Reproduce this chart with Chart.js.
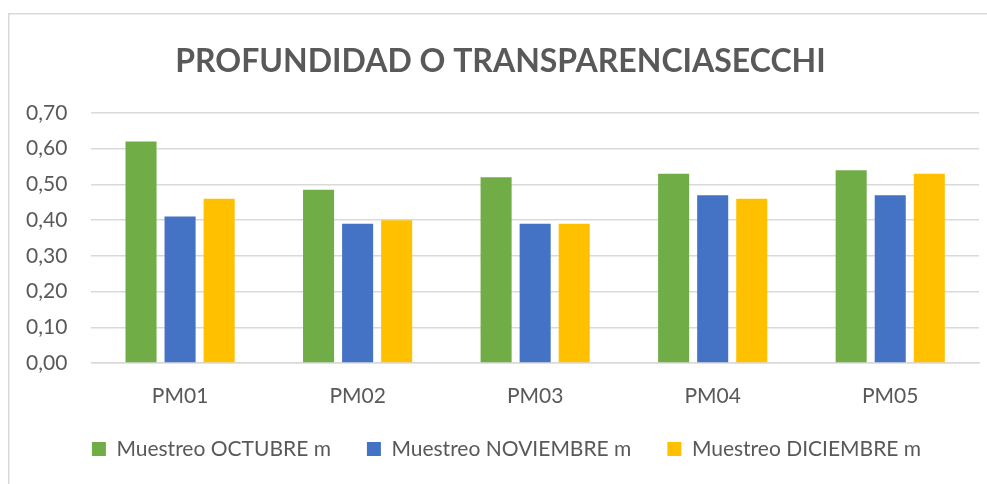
<!DOCTYPE html>
<html>
<head>
<meta charset="utf-8">
<script src="https://cdn.jsdelivr.net/npm/chart.js@4"></script>
<style>
html,body{margin:0;padding:0;background:#fff;}
#wrap{position:relative;width:987px;height:484px;}
</style>
</head>
<body>
<div id="wrap"><canvas id="c" width="987" height="484"></canvas></div>
<script>
const categories = ["PM01", "PM02", "PM03", "PM04", "PM05"];
const octubre = [0.62, 0.485, 0.52, 0.53, 0.54];
const noviembre = [0.41, 0.39, 0.39, 0.47, 0.47];
const diciembre = [0.46, 0.40, 0.39, 0.46, 0.53];
const seriesNames = ["Muestreo OCTUBRE m", "Muestreo NOVIEMBRE m", "Muestreo DICIEMBRE m"];
const titleText = "PROFUNDIDAD O TRANSPARENCIASECCHI";

const FONT = "Lato, 'Open Sans', sans-serif";
const TXT = "#595959";

const framePlugin = {
  id: 'frame',
  beforeDraw(chart) {
    const ctx = chart.ctx;
    ctx.save();
    ctx.fillStyle = '#fff';
    ctx.fillRect(0, 0, chart.width, chart.height);
    ctx.strokeStyle = '#d9d9d9';
    ctx.lineWidth = 1.5;
    ctx.strokeRect(8.75, 13.75, 1100, 600);
    ctx.restore();
  }
};

// nudge title and legend boxes (Excel centres them on the full chart frame)
const shiftPlugin = {
  id: 'shiftBoxes',
  afterLayout(chart) {
    if (chart.titleBlock) { chart.titleBlock.left += 10; chart.titleBlock.right += 10; }
    if (chart.legend) {
      chart.legend.left += 16; chart.legend.right += 16;
      chart.legend.top -= 26.5; chart.legend.bottom -= 26.5;
    }
  }
};

new Chart(document.getElementById('c'), {
  type: 'bar',
  data: {
    labels: categories,
    datasets: [
      { label: seriesNames[0], data: octubre, backgroundColor: '#70ad47' },
      { label: seriesNames[1], data: noviembre, backgroundColor: '#4472c4' },
      { label: seriesNames[2], data: diciembre, backgroundColor: '#ffc000' }
    ]
  },
  options: {
    responsive: false,
    animation: false,
    devicePixelRatio: 1,
    categoryPercentage: 0.66,
    barPercentage: 0.795,
    layout: { padding: { left: 2, right: 8, top: 0, bottom: -12 } },
    plugins: {
      title: {
        display: true,
        text: titleText,
        color: TXT,
        font: { family: FONT, size: 32, weight: 'bold' },
        padding: { top: 42, bottom: 32.6 }
      },
      legend: {
        position: 'bottom',
        labels: {
          color: TXT,
          font: { family: FONT, size: 21 },
          boxWidth: 14,
          boxHeight: 14,
          padding: 36
        }
      },
      tooltip: { enabled: false }
    },
    scales: {
      x: {
        grid: { display: false, drawTicks: false },
        border: { color: '#d9d9d9', width: 1.5 },
        ticks: { color: TXT, font: { family: FONT, size: 21 }, padding: 20.4 }
      },
      y: {
        min: 0,
        max: 0.7,
        grid: { color: '#d9d9d9', lineWidth: 1.5, drawTicks: false },
        border: { display: false },
        ticks: {
          stepSize: 0.1,
          color: TXT,
          font: { family: FONT, size: 21 },
          padding: 24,
          callback: v => v.toFixed(2).replace('.', ',')
        }
      }
    }
  },
  plugins: [framePlugin, shiftPlugin]
});
</script>
</body>
</html>
